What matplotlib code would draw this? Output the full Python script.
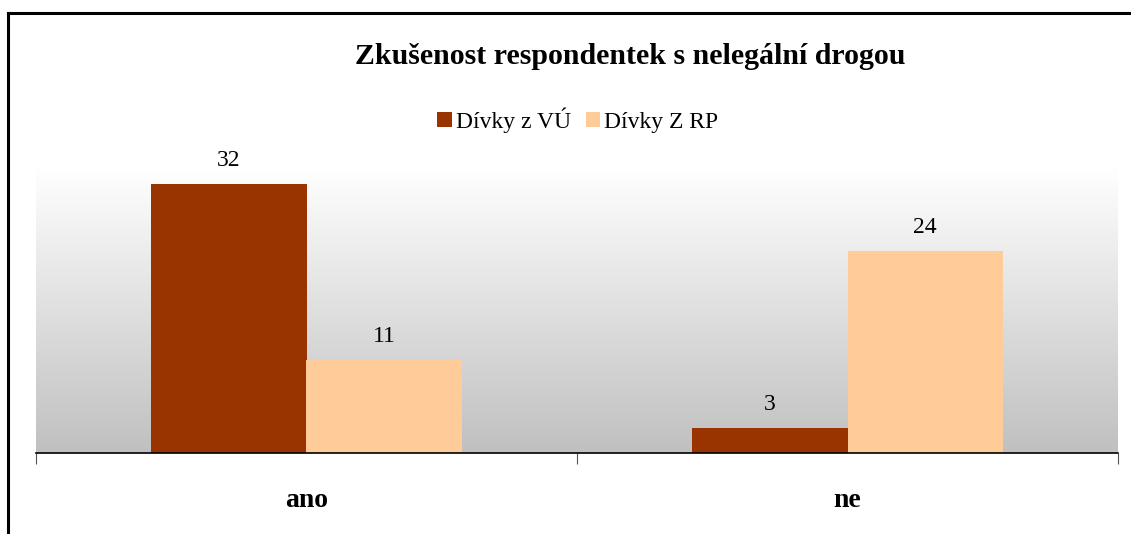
import matplotlib
matplotlib.use("Agg")
import matplotlib.pyplot as plt
import numpy as np
from matplotlib.patches import Patch
from matplotlib.lines import Line2D
from matplotlib.colors import LinearSegmentedColormap

categories = ["ano", "ne"]
series_names = ["Dívky z VÚ", "Dívky Z RP"]
vu_values = [32, 3]
rp_values = [11, 24]
colors = ["#993300", "#FFCC99"]
title = "Zkušenost respondentek s nelegální drogou"

plt.rcParams['font.family'] = ['Liberation Serif', 'DejaVu Serif']

W, H = 1131, 534
fig = plt.figure(figsize=(W / 100, H / 100), dpi=100)

# plot area in pixels
x0, x1 = 36, 1118
ytop, ybot = 167, 453
ax = fig.add_axes([x0 / W, 1 - ybot / H, (x1 - x0) / W, (ybot - ytop) / H])

ymax = 34
ax.set_xlim(0, len(categories))
ax.set_ylim(0, ymax)

# gradient background
grad = np.linspace(0, 1, 256).reshape(-1, 1)
cmap = LinearSegmentedColormap.from_list("g", ["#C0C0C0", "#FFFFFF"])
ax.imshow(grad, aspect='auto', cmap=cmap, origin='lower',
          extent=[0, len(categories), 0, ymax], zorder=0)

bw = 155 / 540
centers = np.arange(len(categories)) + 0.5
b1 = ax.bar(centers - bw / 2, vu_values, width=bw, color=colors[0], zorder=2)
b2 = ax.bar(centers + bw / 2, rp_values, width=bw, color=colors[1], zorder=2)

for bars, vals in ((b1, vu_values), (b2, rp_values)):
    for rect, v in zip(bars, vals):
        ax.annotate(str(v), (rect.get_x() + rect.get_width() / 2, v),
                    xytext=(0, 13), textcoords='offset pixels',
                    ha='center', va='bottom', fontsize=17)

for s in ['top', 'right', 'left']:
    ax.spines[s].set_visible(False)
ax.spines['bottom'].set_linewidth(1.2)
ax.set_yticks([])
ax.set_xticks([0, 1, 2])
ax.set_xticklabels([])
ax.tick_params(axis='x', length=8, width=0.8, color='#555555', direction='out')
for c, lab in zip(centers, categories):
    ax.text(c, -0.165 * ymax, lab, ha='center', va='center',
            fontsize=20, fontweight='bold')

fig.text(630 / W, 1 - 57 / H, title, ha='center', va='center',
         fontsize=21.5, fontweight='bold')

handles = [Patch(facecolor=c, edgecolor='none') for c in colors]
fig.legend(handles, series_names, loc='center', bbox_to_anchor=(578 / W, 1 - 120 / H),
           ncol=2, frameon=False, fontsize=17, handlelength=0.6, handleheight=0.6,
           handletextpad=0.2, columnspacing=0.6)

# frame lines (left and top)
fig.add_artist(Line2D([8 / W, 8 / W], [0, 1 - 12.5 / H], transform=fig.transFigure,
                      color='black', linewidth=2.2))
fig.add_artist(Line2D([8 / W, 1], [1 - 12.5 / H, 1 - 12.5 / H], transform=fig.transFigure,
                      color='black', linewidth=2.2))

fig.savefig("out.png", dpi=100)
